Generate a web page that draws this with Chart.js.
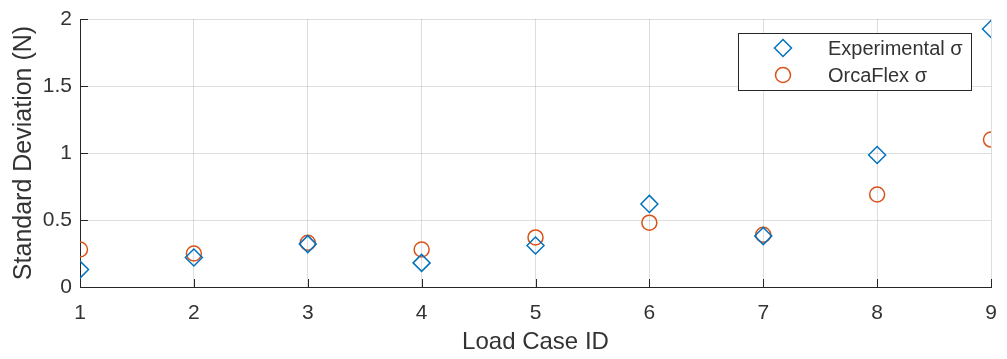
<!DOCTYPE html>
<html><head><meta charset="utf-8">
<script src="https://cdn.jsdelivr.net/npm/chart.js@4"></script>
<style>html,body{margin:0;padding:0;background:#fff}#wrap{width:1007px;height:359px}</style>
</head><body><div id="wrap"><canvas id="c" width="1007" height="359"></canvas></div>
<script>
const loadCases = [1, 2, 3, 4, 5, 6, 7, 8, 9];
const experimental = [0.13, 0.22, 0.32, 0.18, 0.31, 0.62, 0.38, 0.985, 1.925];
const orcaflex = [0.28, 0.25, 0.33, 0.28, 0.37, 0.48, 0.39, 0.69, 1.10];
const yTicks = [0, 0.5, 1, 1.5, 2];
const seriesNames = ['Experimental σ', 'OrcaFlex σ'];

const FONT = 'Liberation Sans, Arial, Helvetica, sans-serif';
const TXT = '#333333';
const DIAMOND_R = 8.5;
const CIRCLE_R = 7.5;

const insideTicks = {
  id: 'insideTicks',
  afterDatasetsDraw(chart) {
    const {ctx, chartArea: a, scales: {x, y}} = chart;
    ctx.save();
    ctx.strokeStyle = '#262626';
    ctx.lineWidth = 1;
    ctx.beginPath();
    loadCases.forEach(v => { const px = Math.round(x.getPixelForValue(v)) + 0.5; ctx.moveTo(px, a.bottom); ctx.lineTo(px, a.bottom - 8); });
    yTicks.forEach(v => { const py = Math.round(y.getPixelForValue(v)) + 0.5; ctx.moveTo(a.left, py); ctx.lineTo(a.left + 8, py); });
    ctx.stroke();
    ctx.restore();
  },
  afterDraw(chart) {
    const {ctx} = chart;
    ctx.save();
    const bx = 738.5, by = 33.5, bw = 233, bh = 57;
    ctx.fillStyle = '#fff';
    ctx.fillRect(bx, by, bw, bh);
    ctx.strokeStyle = '#262626';
    ctx.lineWidth = 1;
    ctx.strokeRect(bx, by, bw, bh);
    ctx.font = '20px ' + FONT;
    ctx.fillStyle = TXT;
    ctx.textBaseline = 'middle';
    const rows = [48, 75];
    chart.data.datasets.forEach((ds, i) => {
      const cy = rows[i], cx = 783;
      ctx.strokeStyle = ds.borderColor;
      ctx.lineWidth = 1.5;
      ctx.beginPath();
      if (ds.pointStyle === 'rectRot') {
        const r = DIAMOND_R;
        ctx.moveTo(cx, cy - r); ctx.lineTo(cx + r, cy); ctx.lineTo(cx, cy + r); ctx.lineTo(cx - r, cy); ctx.closePath();
      } else {
        ctx.arc(cx, cy, CIRCLE_R, 0, Math.PI * 2);
      }
      ctx.stroke();
      ctx.fillStyle = TXT;
      ctx.fillText(ds.label, 828, cy + 1);
    });
    ctx.restore();
  }
};

new Chart(document.getElementById('c'), {
  type: 'scatter',
  data: {
    datasets: [
      { label: seriesNames[0], data: loadCases.map((x, i) => ({x, y: experimental[i]})),
        pointStyle: 'rectRot', radius: DIAMOND_R, hoverRadius: DIAMOND_R, borderColor: '#0072BD', backgroundColor: 'rgba(0,0,0,0)', borderWidth: 1.5 },
      { label: seriesNames[1], data: loadCases.map((x, i) => ({x, y: orcaflex[i]})),
        pointStyle: 'circle', radius: CIRCLE_R, hoverRadius: CIRCLE_R, borderColor: '#D95319', backgroundColor: 'rgba(0,0,0,0)', borderWidth: 1.5 }
    ]
  },
  options: {
    responsive: false,
    animation: false,
    events: [],
    layout: { padding: { top: 19, right: 16, left: 0, bottom: 0 } },
    plugins: { legend: { display: false }, tooltip: { enabled: false } },
    scales: {
      x: {
        type: 'linear', min: 1, max: 9,
        afterBuildTicks: s => { s.ticks = loadCases.map(v => ({value: v})); },
        afterFit: s => { s.height = 72; s.paddingLeft = 0; s.paddingRight = 0; },
        grid: { color: 'rgba(0,0,0,0.13)', drawTicks: false, tickLength: 0 },
        border: { color: '#262626', width: 1 },
        ticks: { font: { family: FONT, size: 21 }, color: TXT, padding: 14, maxRotation: 0, autoSkip: false, callback: v => String(v) },
        title: { display: true, text: 'Load Case ID', font: { family: FONT, size: 24 }, color: TXT, padding: { top: 0, bottom: 2 } }
      },
      y: {
        min: 0, max: 2,
        afterBuildTicks: s => { s.ticks = yTicks.map(v => ({value: v})); },
        afterFit: s => { s.width = 80; s.paddingTop = 0; s.paddingBottom = 0; },
        grid: { color: 'rgba(0,0,0,0.13)', drawTicks: false, tickLength: 0 },
        border: { color: '#262626', width: 1 },
        ticks: { font: { family: FONT, size: 21 }, color: TXT, padding: 8, callback: v => String(v) },
        title: { display: true, text: 'Standard Deviation (N)', font: { family: FONT, size: 25 }, color: TXT, padding: { top: 9, bottom: 0 } }
      }
    }
  },
  plugins: [insideTicks]
});
</script></body></html>
